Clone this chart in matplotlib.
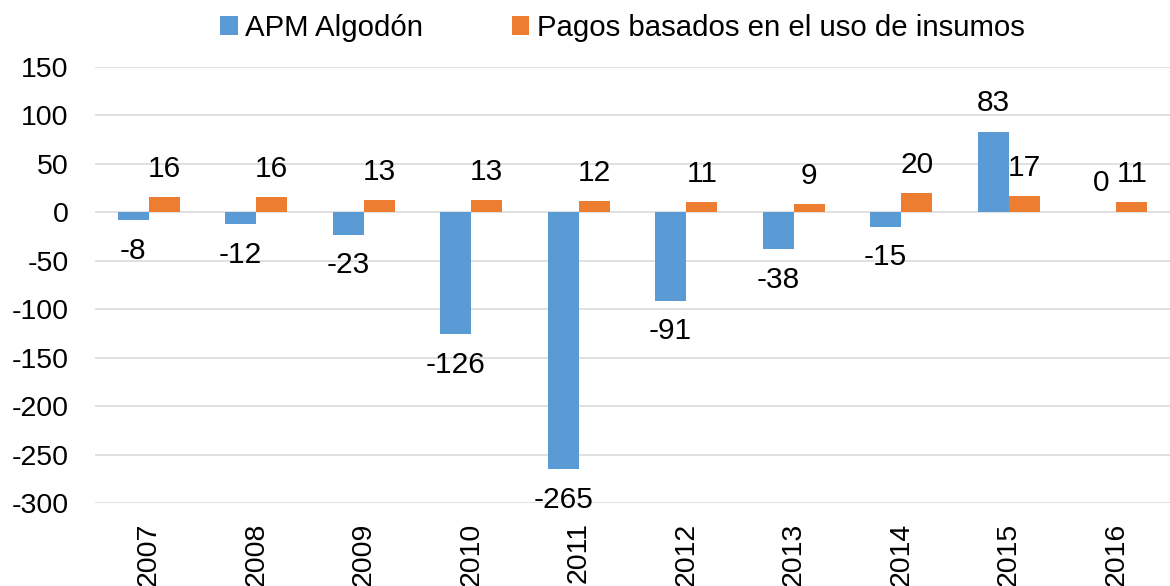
import matplotlib.pyplot as plt
import numpy as np

# datos
anios = ['2007', '2008', '2009', '2010', '2011', '2012', '2013', '2014', '2015', '2016']
apm_algodon = [-8, -12, -23, -126, -265, -91, -38, -15, 83, 0]
pagos_insumos = [16, 16, 13, 13, 12, 11, 9, 20, 17, 11]

azul = '#5B9BD5'
naranja = '#ED7D31'

plt.rcParams['font.family'] = ['Liberation Sans', 'DejaVu Sans']
plt.rcParams['axes.unicode_minus'] = False

fig = plt.figure(figsize=(11.7, 5.86), dpi=100)
ax = fig.add_axes([0.0812, 0.1416, 0.9188, 0.7441])

x = np.arange(len(anios))
ancho = 0.29

b1 = ax.bar(x - ancho / 2, apm_algodon, ancho, color=azul, label='APM Algodón', zorder=3)
b2 = ax.bar(x + ancho / 2, pagos_insumos, ancho, color=naranja,
            label='Pagos basados en el uso de insumos', zorder=3)

# etiquetas de datos
for xi, v in zip(x, apm_algodon):
    off = 21 if v >= 0 else -22
    ax.annotate('{}'.format(v), (xi - ancho / 2, v), xytext=(0, off), textcoords='offset points',
                ha='center', va='center', fontsize=21.5)
for xi, v in zip(x, pagos_insumos):
    ax.annotate('{}'.format(v), (xi + ancho / 2, v), xytext=(0, 20), textcoords='offset points',
                ha='center', va='center', fontsize=21.5)

ax.set_xlim(-0.5, len(anios) - 0.5)
ax.set_ylim(-300, 150)
ax.set_yticks(np.arange(-300, 151, 50))
ax.set_xticks(x)
ax.set_xticklabels(anios, rotation=90)

ax.tick_params(axis='y', length=0, pad=19, labelsize=20.5)
ax.tick_params(axis='x', length=0, pad=14, labelsize=20.5)

ax.grid(axis='y', color='#d9d9d9', linewidth=1.1, zorder=0)
for s in ax.spines.values():
    s.set_visible(False)

fig.legend(handles=[b1, b2], loc='center', bbox_to_anchor=(0.532, 0.952), ncol=2,
           frameon=False, fontsize=21.2, handlelength=0.6, handleheight=0.6,
           handletextpad=0.25, columnspacing=3.0)

fig.savefig('out.png', dpi=100)
